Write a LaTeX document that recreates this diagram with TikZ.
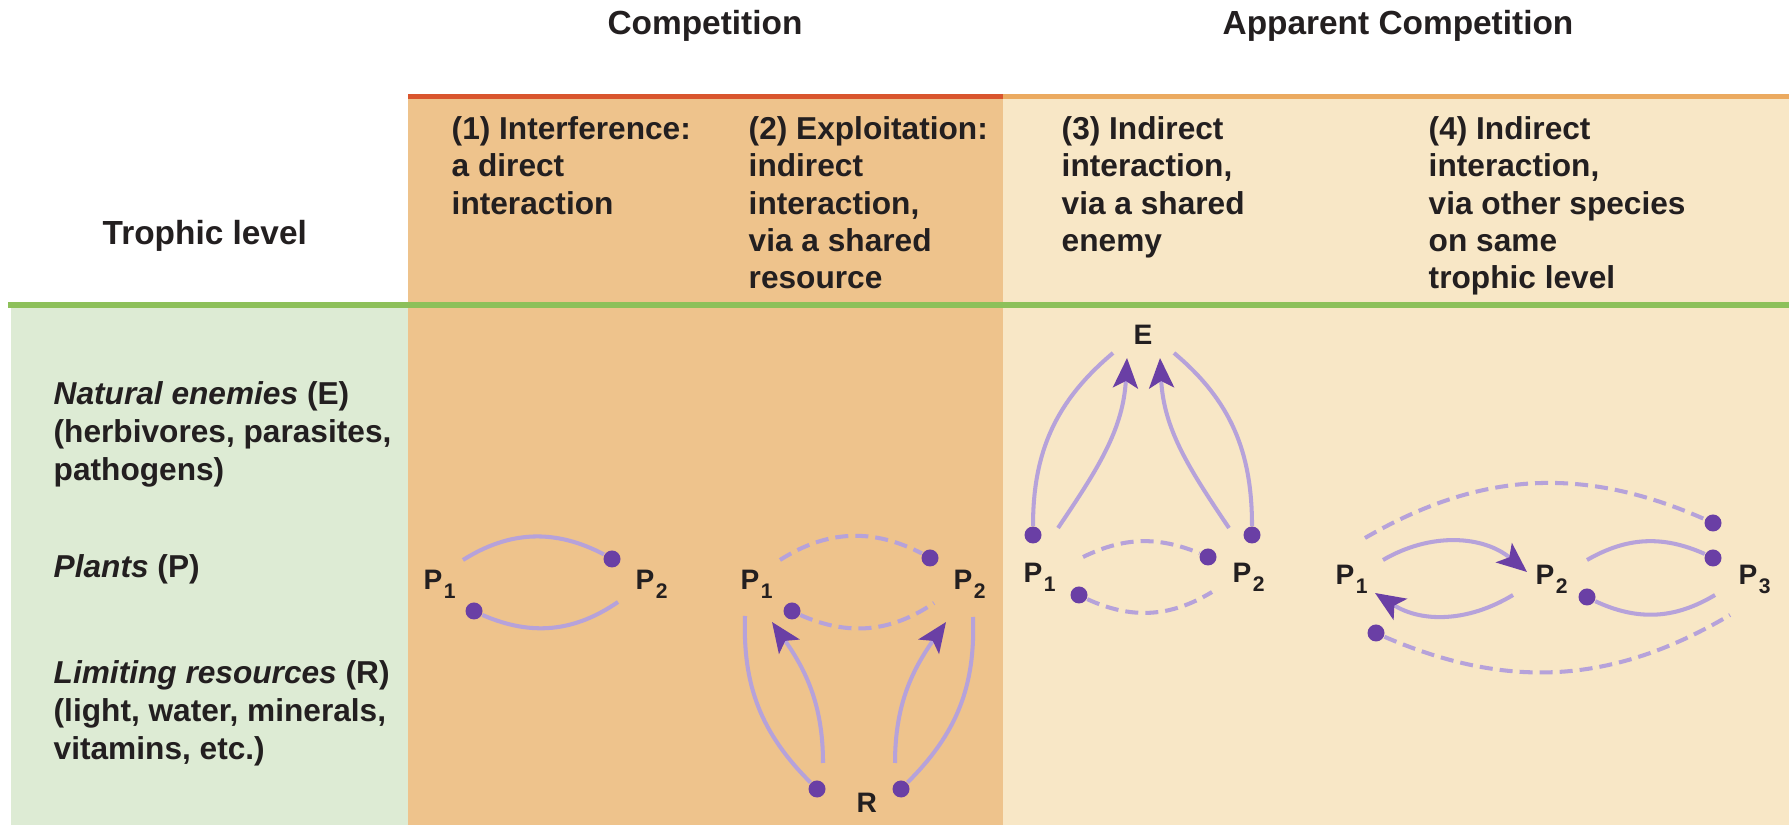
\documentclass[tikz,border=0pt]{standalone}
\usepackage{fontspec}
\setmainfont{Liberation Sans}
\usetikzlibrary{arrows.meta}

\definecolor{txt}{HTML}{231F20}
\definecolor{compbg}{HTML}{EEC38C}
\definecolor{appbg}{HTML}{F8E7C6}
\definecolor{levelbg}{HTML}{DDEBD4}
\definecolor{levelline}{HTML}{8DC05A}
\definecolor{compline}{HTML}{D9552D}
\definecolor{appline}{HTML}{EBAA60}
\definecolor{linkc}{HTML}{B6A2DA}
\definecolor{dotc}{HTML}{6A3FA5}

% species label with a lowered index
\newcommand\Psub[1]{P\kern0.4pt\raisebox{-2.3pt}{\fontsize{6}{6}\selectfont #1}}

\begin{document}
\begin{tikzpicture}[x=0.01cm, y=0.01cm,
  title/.style = {anchor=base, inner sep=0, font=\fontsize{9.5}{11}\selectfont\bfseries, text=txt},
  head/.style = {anchor=north west, align=left, inner sep=0, font=\fontsize{9}{10.6}\selectfont\bfseries, text=txt},
  lvl/.style = {anchor=north west, align=left, inner sep=0, font=\fontsize{9}{10.8}\selectfont\bfseries, text=txt},
  sp/.style = {anchor=base west, inner sep=0, font=\fontsize{8}{8}\selectfont\bfseries, text=txt},
  dot/.style = {circle, fill=dotc, inner sep=0, minimum size=0.17cm},
  rel/.style = {draw=linkc, line width=1.15pt},
  weak/.style = {rel, dash pattern=on 3.7pt off 2pt},
  feed/.style = {rel, -{Stealth[length=0.3cm, width=0.25cm, inset=0.07cm, color=dotc]}}
]
\useasboundingbox (0,0) rectangle (1789,825);

% panels
\fill[white] (0,0) rectangle (1789,825);
\fill[levelbg] (11,0) rectangle (408,520);
\fill[compbg] (408,0) rectangle (1003,728);
\fill[appbg] (1003,0) rectangle (1789,728);
\draw[compline, line width=0.05cm] (408,728) -- (1003,728);
\draw[appline, line width=0.05cm] (1003,728) -- (1789,728);
\draw[levelline, line width=0.06cm] (8,520) -- (1789,520);

% headings
\node[title] (comp) at (705,790) {Competition};
\node[title] (appcomp) at (1398,790) {Apparent Competition};
\node[sp, font=\fontsize{9.5}{11}\selectfont\bfseries] (troph) at (102,580) {Trophic level};

\node[head] (h1) at (451,709) {(1) Interference:\\a direct\\interaction};
\node[head] (h2) at (748,709) {(2) Exploitation:\\indirect\\interaction,\\via a shared\\resource};
\node[head] (h3) at (1061,709) {(3) Indirect\\interaction,\\via a shared\\enemy};
\node[head] (h4) at (1428,709) {(4) Indirect\\interaction,\\via other species\\on same\\trophic level};

% trophic levels
\node[lvl] (enem) at (53,444) {\textit{Natural enemies} (E)\\(herbivores, parasites,\\pathogens)};
\node[sp, font=\fontsize{9}{10.8}\selectfont\bfseries] (plant) at (53,247) {\textit{Plants} (P)};
\node[lvl] (res) at (53,165) {\textit{Limiting resources} (R)\\(light, water, minerals,\\vitamins, etc.)};

% (1) interference
\node[sp] (p1a) at (423,235) {\Psub{1}};
\node[sp] (p2a) at (635,235) {\Psub{2}};
\node[dot] (a) at (612,266) {};
\node[dot] (b) at (474,214) {};
\coordinate (a1s) at (463,265);
\coordinate (b1e) at (618,223);
\draw[rel] (a1s) to[bend left=30] (a);
\draw[rel] (b) to[bend right=29] (b1e);

% (2) exploitation
\node[sp] (p1b) at (740,235) {\Psub{1}};
\node[sp] (p2b) at (953,235) {\Psub{2}};
\node[sp] (r) at (856,12) {R};
\node[dot] (c) at (930,267) {};
\node[dot] (d) at (792,214) {};
\node[dot] (e) at (817,36) {};
\node[dot] (f) at (901,36) {};
\coordinate (c2s) at (780,265);
\coordinate (d2e) at (934,222);
\coordinate (e2t) at (745,209);
\coordinate (f2t) at (973,208);
\coordinate (ri1) at (823,62);
\coordinate (ti1) at (772,203);
\coordinate (ri2) at (895,62);
\coordinate (ti2) at (946,203);
\draw[weak] (c2s) to[bend left=30] (c);
\draw[weak] (d) to[bend right=29] (d2e);
\draw[rel] (e2t) to[out=-92, in=135] (e);
\draw[rel] (f) to[out=45, in=-88] (f2t);
\draw[feed] (ri1) to[out=90, in=-55] (ti1);
\draw[feed] (ri2) to[out=90, in=-125] (ti2);

% (3) shared enemy
\node[sp] (p1c) at (1023,242) {\Psub{1}};
\node[sp] (p2c) at (1232,242) {\Psub{2}};
\node[sp, anchor=base] (en) at (1143,480) {E};
\node[dot] (g) at (1033,290) {};
\node[dot] (h) at (1252,290) {};
\node[dot] (i) at (1208,268) {};
\node[dot] (j) at (1079,230) {};
\coordinate (g3t) at (1113,472);
\coordinate (h3t) at (1174,472);
\coordinate (ar1) at (1058,297);
\coordinate (et1) at (1127,467);
\coordinate (ar2) at (1229,297);
\coordinate (et2) at (1160,467);
\coordinate (i3s) at (1083,268);
\coordinate (j3e) at (1212,233);
\draw[rel] (g) to[out=90, in=-140] (g3t);
\draw[rel] (h) to[out=90, in=-40] (h3t);
\draw[feed] (ar1) to[out=56, in=-93] (et1);
\draw[feed] (ar2) to[out=124, in=-87] (et2);
\draw[weak] (i3s) to[bend left=24] (i);
\draw[weak] (j) to[bend right=28] (j3e);

% (4) other species on the same level
\node[sp] (p1d) at (1335,240) {\Psub{1}};
\node[sp] (p2d) at (1535,240) {\Psub{2}};
\node[sp] (p3d) at (1738,240) {\Psub{3}};
\node[dot] (k) at (1713,302) {};
\node[dot] (l) at (1713,267) {};
\node[dot] (m) at (1587,228) {};
\node[dot] (n) at (1376,192) {};
\coordinate (k4s) at (1365,287);
\coordinate (l4s) at (1587,265);
\coordinate (q1s) at (1383,265);
\coordinate (q1t) at (1527,253);
\coordinate (q2s) at (1513,230);
\coordinate (q2t) at (1375,232);
\coordinate (m4e) at (1715,230);
\coordinate (n4e) at (1730,210);
\draw[weak] (k4s) to[bend left=27] (k);
\draw[rel] (l4s) to[bend left=27] (l);
\draw[feed] (q1s) to[bend left=35] (q1t);
\draw[feed] (q2s) to[bend left=32] (q2t);
\draw[rel] (m) to[bend right=28] (m4e);
\draw[weak] (n) to[bend right=27] (n4e);
\end{tikzpicture}
\end{document}
